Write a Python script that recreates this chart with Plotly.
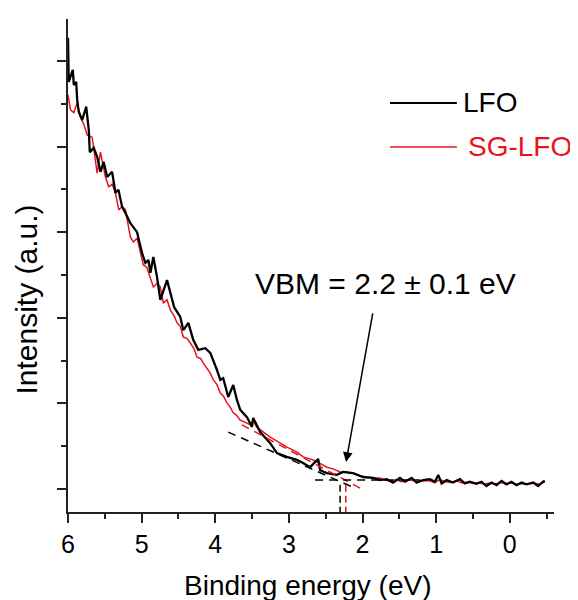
import plotly.graph_objects as go

# ---------------- data ----------------
lfo_energy = [6.00, 5.99, 5.935, 5.921, 5.889, 5.875, 5.854, 5.807, 5.753, 5.718, 5.704, 5.650,
              5.604, 5.559, 5.515, 5.468, 5.401, 5.356, 5.315, 5.265, 5.220, 5.153, 5.062, 4.994,
              4.949, 4.908, 4.881, 4.841, 4.791, 4.746, 4.655, 4.559, 4.475, 4.434, 4.366, 4.298,
              4.231, 4.136, 4.068, 4.027, 3.977, 3.932, 3.892, 3.824, 3.756, 3.706, 3.661, 3.570,
              3.502, 3.485, 3.390, 3.254, 3.163, 3.028, 2.892, 2.807, 2.712, 2.603, 2.576, 2.485,
              2.350, 2.264, 2.129, 1.993, 1.858, 1.763, 1.672, 1.586, 1.492, 1.424, 1.333, 1.265,
              1.180, 1.085, 1.017, 0.972, 0.926, 0.858, 0.773, 0.678, 0.610, 0.542, 0.452, 0.384,
              0.316, 0.248, 0.180, 0.112, 0.045, -0.023, -0.091, -0.159, -0.226, -0.316, -0.384,
              -0.452, -0.475]
lfo_intensity = [10.54, 9.51, 9.79, 9.44, 9.51, 9.09, 8.81, 8.62, 8.93, 8.39, 7.87, 7.97,
                 7.76, 7.41, 7.64, 7.29, 7.41, 6.92, 6.99, 6.59, 6.45, 6.21, 6.00, 5.51,
                 5.28, 5.35, 5.05, 5.42, 4.95, 4.42, 4.88, 4.25, 4.02, 3.71, 3.88, 3.48,
                 3.25, 3.29, 3.18, 3.01, 2.78, 2.55, 2.59, 2.15, 2.43, 2.08, 1.85, 1.68,
                 1.45, 1.66, 1.33, 1.07, 0.84, 0.75, 0.68, 0.61, 0.51, 0.70, 0.44, 0.37,
                 0.33, 0.40, 0.37, 0.28, 0.26, 0.21, 0.23, 0.15, 0.26, 0.17, 0.26, 0.15,
                 0.21, 0.23, 0.17, 0.33, 0.13, 0.21, 0.15, 0.23, 0.13, 0.17, 0.12, 0.17,
                 0.07, 0.15, 0.09, 0.19, 0.11, 0.17, 0.09, 0.15, 0.11, 0.15, 0.07,
                 0.17, 0.19]

sglfo_energy = [6.00, 5.966, 5.921, 5.875, 5.831, 5.785, 5.740, 5.672, 5.604, 5.559, 5.492, 5.447,
                5.400, 5.356, 5.311, 5.265, 5.220, 5.153, 5.112, 5.062, 5.020, 4.976, 4.930, 4.881,
                4.841, 4.790, 4.746, 4.705, 4.655, 4.610, 4.560, 4.519, 4.475, 4.434, 4.385, 4.339,
                4.290, 4.248, 4.200, 4.163, 4.110, 4.068, 4.027, 3.980, 3.932, 3.885, 3.841, 3.800,
                3.756, 3.710, 3.661, 3.615, 3.570, 3.525, 3.485, 3.440, 3.390, 3.320, 3.254, 3.190,
                3.119, 3.070, 3.028, 2.942, 2.880, 2.807, 2.740, 2.671, 2.580, 2.485, 2.400, 2.305,
                2.210, 2.129, 2.040, 1.943, 1.850, 1.763, 1.70, 1.62, 1.55, 1.47, 1.40, 1.33,
                1.25, 1.18, 1.10, 1.02, 0.95, 0.88, 0.80, 0.72, 0.65, 0.57, 0.50, 0.42, 0.35,
                0.28, 0.20, 0.12, 0.05, -0.03, -0.10, -0.18, -0.25, -0.33, -0.40, -0.47]
sglfo_intensity = [9.21, 8.86, 8.79, 9.02, 8.69, 8.52, 8.27, 8.22, 7.38, 7.87, 7.29, 7.06,
                   7.12, 6.92, 6.52, 6.60, 6.52, 5.89, 5.77, 5.86, 5.55, 5.23, 5.18, 4.95,
                   4.72, 4.80, 4.72, 4.35, 4.42, 4.18, 4.05, 3.88, 3.80, 3.55, 3.52, 3.41,
                   3.28, 3.08, 3.05, 2.94, 2.80, 2.71, 2.55, 2.45, 2.24, 2.16, 2.01, 1.92,
                   1.78, 1.72, 1.61, 1.58, 1.54, 1.50, 1.61, 1.45, 1.38, 1.30, 1.21, 1.15,
                   1.07, 1.02, 0.98, 0.91, 0.85, 0.75, 0.72, 0.68, 0.60, 0.51, 0.47, 0.40,
                   0.39, 0.37, 0.31, 0.28, 0.26, 0.26, 0.21, 0.19, 0.22, 0.17, 0.20, 0.21,
                   0.16, 0.19, 0.20, 0.15, 0.22, 0.17, 0.15, 0.19, 0.14, 0.16, 0.13, 0.15, 0.11,
                   0.14, 0.12, 0.15, 0.12, 0.14, 0.11, 0.13, 0.12, 0.14, 0.11, 0.16]

# linear extrapolations used for the VBM estimate
lfo_tangent_energy = [3.824, 2.142]
lfo_tangent_intensity = [1.33, 0.05]
sglfo_tangent_energy = [3.638, 1.989]
sglfo_tangent_intensity = [1.50, -0.02]
baseline_energy = [2.644, 1.22]
baseline_intensity = [0.21, 0.21]
lfo_vbm = 2.305
sglfo_vbm = 2.228
vbm_cut_intensity = [0.10, -0.54]

x_tick_vals = [6, 5, 4, 3, 2, 1, 0]
x_tick_text = ["6", "5", "4", "3", "2", "1", "0"]

FONT = "Liberation Sans, Arial, sans-serif"
BLACK = "#000000"
RED = "#e8141c"

fig = go.Figure()

fig.add_trace(go.Scatter(x=sglfo_energy, y=sglfo_intensity, mode="lines",
                         line=dict(color=RED, width=1.5), name="SG-LFO", showlegend=False))
fig.add_trace(go.Scatter(x=lfo_energy, y=lfo_intensity, mode="lines",
                         line=dict(color=BLACK, width=2.3), name="LFO", showlegend=False))

fig.add_trace(go.Scatter(x=lfo_tangent_energy, y=lfo_tangent_intensity, mode="lines",
                         line=dict(color=BLACK, width=1.5, dash="8px,6px"), showlegend=False))
fig.add_trace(go.Scatter(x=sglfo_tangent_energy, y=sglfo_tangent_intensity, mode="lines",
                         line=dict(color=RED, width=1.5, dash="8px,6px"), showlegend=False))
fig.add_trace(go.Scatter(x=baseline_energy, y=baseline_intensity, mode="lines",
                         line=dict(color=BLACK, width=1.5, dash="8px,6px"), showlegend=False))
fig.add_trace(go.Scatter(x=[lfo_vbm, lfo_vbm], y=vbm_cut_intensity, mode="lines",
                         line=dict(color=BLACK, width=1.5, dash="7px,4px"), showlegend=False))
fig.add_trace(go.Scatter(x=[sglfo_vbm, sglfo_vbm], y=vbm_cut_intensity, mode="lines",
                         line=dict(color=RED, width=1.5, dash="7px,4px"), showlegend=False))

# manual legend
fig.add_trace(go.Scatter(x=[1.627, 0.719], y=[9.02, 9.02], mode="lines",
                         line=dict(color=BLACK, width=2), showlegend=False, hoverinfo="skip"))
fig.add_trace(go.Scatter(x=[1.627, 0.719], y=[7.99, 7.99], mode="lines",
                         line=dict(color=RED, width=1.5), showlegend=False, hoverinfo="skip"))

annotations = [
    dict(x=0.66, y=9.02, xref="x", yref="y", text="LFO", showarrow=False,
         xanchor="left", yanchor="middle", font=dict(family=FONT, size=28, color=BLACK)),
    dict(x=0.60, y=7.99, xref="x", yref="y", text="SG-LFO", showarrow=False,
         xanchor="left", yanchor="middle", font=dict(family=FONT, size=28, color=RED)),
    dict(x=1.695, y=4.81, xref="x", yref="y", text="VBM = 2.2 ± 0.1 eV", showarrow=False,
         xanchor="center", yanchor="middle", font=dict(family=FONT, size=30, color=BLACK)),
    dict(x=2.224, y=0.63, xref="x", yref="y", ax=1.858, ay=4.14, axref="x", ayref="y",
         text="", showarrow=True, arrowhead=2, arrowsize=1.3, arrowwidth=1.5, arrowcolor=BLACK),
    dict(x=0.492, y=-0.15, xref="paper", yref="paper", text="Binding energy (eV)",
         showarrow=False, xanchor="center", yanchor="middle",
         font=dict(family=FONT, size=28, color=BLACK)),
    dict(x=-0.0874, y=0.43, xref="paper", yref="paper", text="Intensity (a.u.)",
         showarrow=False, textangle=-90, xanchor="center", yanchor="middle",
         font=dict(family=FONT, size=30, color=BLACK)),
]

# page body has an 8px margin: size/margins chosen so the plot area lands at
# x 67.5..554 and y 19..512 in the 578x600 window
fig.update_layout(
    width=570, height=592,
    margin=dict(l=59.5, r=24, t=11, b=88),
    paper_bgcolor="white", plot_bgcolor="white",
    annotations=annotations,
    showlegend=False,
)
fig.update_xaxes(
    range=[6, -0.6], showgrid=False, zeroline=False,
    showline=True, linecolor="#222222", linewidth=2,
    ticks="outside", ticklen=9, tickwidth=1.5, tickcolor="#222222",
    tickvals=x_tick_vals, ticktext=x_tick_text,
    tickfont=dict(family=FONT, size=25, color=BLACK),
    minor=dict(dtick=0.5, ticks="outside", ticklen=5, tickwidth=1.5, tickcolor="#222222", tick0=0),
)
fig.update_yaxes(
    range=[-0.537, 10.98], showgrid=False, zeroline=False,
    showline=True, linecolor="#222222", linewidth=2,
    ticks="outside", ticklen=9, tickwidth=1.5, tickcolor="#222222",
    tick0=0, dtick=2, showticklabels=False,
    minor=dict(dtick=1, tick0=0, ticks="outside", ticklen=5, tickwidth=1.5, tickcolor="#222222"),
)

fig.write_html("out.html")
